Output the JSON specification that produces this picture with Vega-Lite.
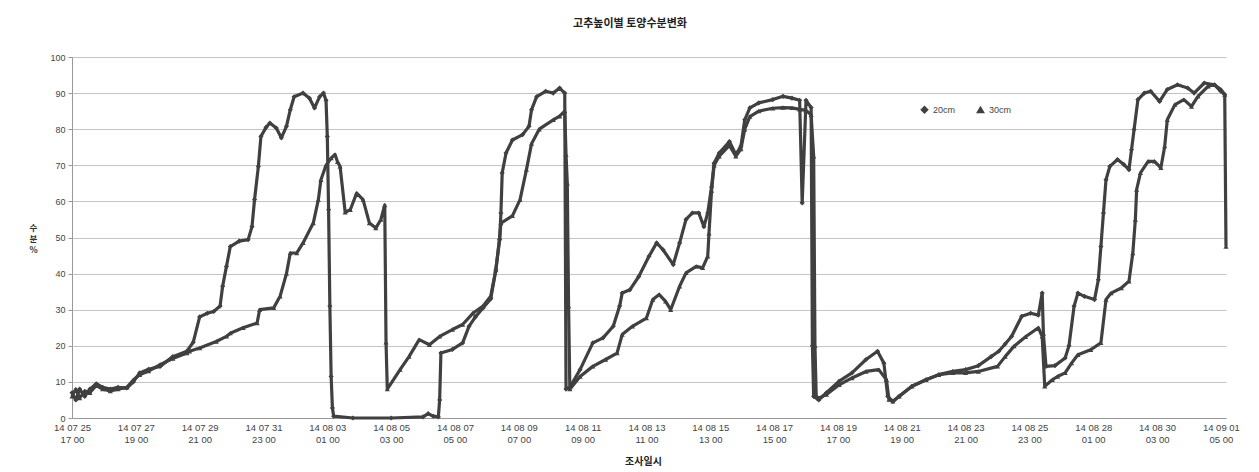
{
"$schema": "https://vega.github.io/schema/vega-lite/v6.json",
"width": 1154, "height": 361,
"autosize": "none",
"padding": {"left": 72, "top": 57, "right": 33, "bottom": 54},
"background": "white",
"title": {"text": "고추높이별 토양수분변화", "fontSize": 11, "font": "Noto Sans CJK KR", "fontWeight": "bold", "color": "#222222", "offset": 24, "dx": -19},
"data": {"values": [
{"h":0,"d":"20cm","v":7},{"h":3,"d":"20cm","v":5},{"h":6,"d":"20cm","v":8},{"h":10,"d":"20cm","v":6},{"h":14,"d":"20cm","v":8},{"h":19,"d":"20cm","v":9.5},{"h":24,"d":"20cm","v":8.5},{"h":30,"d":"20cm","v":8},{"h":36,"d":"20cm","v":8.5},{"h":43,"d":"20cm","v":8.3},{"h":48,"d":"20cm","v":10},{"h":53,"d":"20cm","v":12.5},{"h":60,"d":"20cm","v":13.5},{"h":69,"d":"20cm","v":14.3},{"h":79,"d":"20cm","v":17},{"h":90,"d":"20cm","v":18.5},{"h":95,"d":"20cm","v":21},{"h":100,"d":"20cm","v":28},{"h":106,"d":"20cm","v":29},{"h":111,"d":"20cm","v":29.5},{"h":116,"d":"20cm","v":31},{"h":118,"d":"20cm","v":36.5},{"h":121,"d":"20cm","v":42},{"h":124,"d":"20cm","v":47.5},{"h":131,"d":"20cm","v":49},{"h":138,"d":"20cm","v":49.4},{"h":141,"d":"20cm","v":53},{"h":143,"d":"20cm","v":60.5},{"h":146,"d":"20cm","v":69.7},{"h":148,"d":"20cm","v":78},{"h":152,"d":"20cm","v":80.5},{"h":155,"d":"20cm","v":81.7},{"h":160,"d":"20cm","v":80.3},{"h":164,"d":"20cm","v":77.6},{"h":168,"d":"20cm","v":80.8},{"h":171,"d":"20cm","v":85.4},{"h":174,"d":"20cm","v":89},{"h":181,"d":"20cm","v":90},{"h":186,"d":"20cm","v":88.6},{"h":190,"d":"20cm","v":85.9},{"h":194,"d":"20cm","v":89},{"h":197,"d":"20cm","v":90},{"h":199,"d":"20cm","v":88},{"h":200,"d":"20cm","v":78},{"h":201,"d":"20cm","v":57.7},{"h":202,"d":"20cm","v":31},{"h":203,"d":"20cm","v":11.5},{"h":204,"d":"20cm","v":2.8},{"h":205,"d":"20cm","v":0.5},{"h":220,"d":"20cm","v":0},{"h":250,"d":"20cm","v":0},{"h":275,"d":"20cm","v":0.3},{"h":279,"d":"20cm","v":1.2},{"h":283,"d":"20cm","v":0.5},{"h":287,"d":"20cm","v":0.3},{"h":288,"d":"20cm","v":5},{"h":289,"d":"20cm","v":18},{"h":298,"d":"20cm","v":19},{"h":306,"d":"20cm","v":20.8},{"h":311,"d":"20cm","v":25.4},{"h":316,"d":"20cm","v":28},{"h":322,"d":"20cm","v":30.5},{"h":328,"d":"20cm","v":33},{"h":332,"d":"20cm","v":41},{"h":335,"d":"20cm","v":49.4},{"h":336,"d":"20cm","v":56.8},{"h":337,"d":"20cm","v":67.9},{"h":340,"d":"20cm","v":73.4},{"h":345,"d":"20cm","v":77},{"h":353,"d":"20cm","v":78.5},{"h":358,"d":"20cm","v":80.8},{"h":360,"d":"20cm","v":85.4},{"h":364,"d":"20cm","v":89},{"h":371,"d":"20cm","v":90.5},{"h":377,"d":"20cm","v":90},{"h":382,"d":"20cm","v":91.4},{"h":386,"d":"20cm","v":90},{"h":387,"d":"20cm","v":8},{"h":390,"d":"20cm","v":8.5},{"h":398,"d":"20cm","v":13.4},{"h":408,"d":"20cm","v":20.8},{"h":416,"d":"20cm","v":22.2},{"h":424,"d":"20cm","v":25.4},{"h":429,"d":"20cm","v":31},{"h":431,"d":"20cm","v":34.6},{"h":437,"d":"20cm","v":35.5},{"h":444,"d":"20cm","v":39.2},{"h":452,"d":"20cm","v":44.8},{"h":458,"d":"20cm","v":48.5},{"h":463,"d":"20cm","v":46.6},{"h":471,"d":"20cm","v":42.5},{"h":476,"d":"20cm","v":48.5},{"h":481,"d":"20cm","v":55},{"h":486,"d":"20cm","v":56.8},{"h":491,"d":"20cm","v":56.8},{"h":495,"d":"20cm","v":53},{"h":498,"d":"20cm","v":56.8},{"h":501,"d":"20cm","v":64},{"h":503,"d":"20cm","v":70.6},{"h":507,"d":"20cm","v":73.4},{"h":515,"d":"20cm","v":76.6},{"h":520,"d":"20cm","v":73},{"h":524,"d":"20cm","v":75.3},{"h":527,"d":"20cm","v":82.6},{"h":531,"d":"20cm","v":85.9},{"h":538,"d":"20cm","v":87.3},{"h":549,"d":"20cm","v":88.2},{"h":557,"d":"20cm","v":89.1},{"h":564,"d":"20cm","v":88.6},{"h":570,"d":"20cm","v":88},{"h":572,"d":"20cm","v":59.6},{"h":575,"d":"20cm","v":88},{"h":579,"d":"20cm","v":86},{"h":580,"d":"20cm","v":20},{"h":581,"d":"20cm","v":6},{"h":585,"d":"20cm","v":5},{"h":591,"d":"20cm","v":7},{"h":601,"d":"20cm","v":10.2},{"h":611,"d":"20cm","v":12.5},{"h":622,"d":"20cm","v":16.2},{"h":631,"d":"20cm","v":18.5},{"h":636,"d":"20cm","v":15.2},{"h":639,"d":"20cm","v":6},{"h":643,"d":"20cm","v":4.6},{"h":648,"d":"20cm","v":6},{"h":658,"d":"20cm","v":8.8},{"h":669,"d":"20cm","v":10.6},{"h":679,"d":"20cm","v":12},{"h":690,"d":"20cm","v":12.9},{"h":700,"d":"20cm","v":13.4},{"h":710,"d":"20cm","v":14.5},{"h":720,"d":"20cm","v":17},{"h":726,"d":"20cm","v":18.5},{"h":731,"d":"20cm","v":20.5},{"h":736,"d":"20cm","v":22.6},{"h":744,"d":"20cm","v":28.2},{"h":751,"d":"20cm","v":29},{"h":757,"d":"20cm","v":28.5},{"h":760,"d":"20cm","v":34.6},{"h":761,"d":"20cm","v":23},{"h":763,"d":"20cm","v":14.3},{"h":770,"d":"20cm","v":14.5},{"h":778,"d":"20cm","v":16.6},{"h":781,"d":"20cm","v":20},{"h":785,"d":"20cm","v":31},{"h":788,"d":"20cm","v":34.6},{"h":793,"d":"20cm","v":33.7},{"h":801,"d":"20cm","v":32.8},{"h":804,"d":"20cm","v":38.3},{"h":806,"d":"20cm","v":47.5},{"h":808,"d":"20cm","v":56.8},{"h":810,"d":"20cm","v":66},{"h":813,"d":"20cm","v":69.7},{"h":819,"d":"20cm","v":71.6},{"h":824,"d":"20cm","v":70.2},{"h":828,"d":"20cm","v":68.8},{"h":830,"d":"20cm","v":74.3},{"h":832,"d":"20cm","v":79.9},{"h":835,"d":"20cm","v":88.2},{"h":840,"d":"20cm","v":90},{"h":845,"d":"20cm","v":90.5},{"h":852,"d":"20cm","v":87.7},{"h":858,"d":"20cm","v":91},{"h":866,"d":"20cm","v":92.3},{"h":874,"d":"20cm","v":91.4},{"h":879,"d":"20cm","v":90},{"h":887,"d":"20cm","v":92.8},{"h":895,"d":"20cm","v":92.3},{"h":900,"d":"20cm","v":90.5},{"h":903,"d":"20cm","v":89.6},
{"h":0,"d":"30cm","v":6},{"h":3,"d":"30cm","v":8},{"h":6,"d":"30cm","v":5.5},{"h":10,"d":"30cm","v":7.5},{"h":14,"d":"30cm","v":7},{"h":19,"d":"30cm","v":9},{"h":24,"d":"30cm","v":8},{"h":30,"d":"30cm","v":7.5},{"h":36,"d":"30cm","v":8},{"h":43,"d":"30cm","v":8.5},{"h":48,"d":"30cm","v":10.5},{"h":53,"d":"30cm","v":12},{"h":60,"d":"30cm","v":13},{"h":69,"d":"30cm","v":14.8},{"h":79,"d":"30cm","v":16.5},{"h":90,"d":"30cm","v":18},{"h":92,"d":"30cm","v":18.5},{"h":100,"d":"30cm","v":19.4},{"h":113,"d":"30cm","v":21.2},{"h":121,"d":"30cm","v":22.6},{"h":124,"d":"30cm","v":23.5},{"h":134,"d":"30cm","v":25},{"h":145,"d":"30cm","v":26.3},{"h":147,"d":"30cm","v":30},{"h":158,"d":"30cm","v":30.5},{"h":163,"d":"30cm","v":33.7},{"h":168,"d":"30cm","v":40},{"h":171,"d":"30cm","v":45.7},{"h":176,"d":"30cm","v":45.7},{"h":181,"d":"30cm","v":48.5},{"h":189,"d":"30cm","v":54},{"h":193,"d":"30cm","v":60.5},{"h":195,"d":"30cm","v":66},{"h":199,"d":"30cm","v":70},{"h":203,"d":"30cm","v":72},{"h":206,"d":"30cm","v":73},{"h":208,"d":"30cm","v":71},{"h":210,"d":"30cm","v":69.7},{"h":214,"d":"30cm","v":57},{"h":218,"d":"30cm","v":57.7},{"h":223,"d":"30cm","v":62.3},{"h":228,"d":"30cm","v":60.5},{"h":233,"d":"30cm","v":54},{"h":238,"d":"30cm","v":52.6},{"h":242,"d":"30cm","v":55},{"h":245,"d":"30cm","v":59},{"h":246,"d":"30cm","v":21},{"h":247,"d":"30cm","v":8},{"h":257,"d":"30cm","v":13.4},{"h":264,"d":"30cm","v":17},{"h":272,"d":"30cm","v":21.7},{"h":280,"d":"30cm","v":20.3},{"h":288,"d":"30cm","v":22.6},{"h":298,"d":"30cm","v":24.5},{"h":306,"d":"30cm","v":25.9},{"h":314,"d":"30cm","v":29},{"h":322,"d":"30cm","v":31},{"h":328,"d":"30cm","v":33.7},{"h":332,"d":"30cm","v":41},{"h":335,"d":"30cm","v":50},{"h":336,"d":"30cm","v":54},{"h":345,"d":"30cm","v":56},{"h":351,"d":"30cm","v":60.5},{"h":356,"d":"30cm","v":68.8},{"h":360,"d":"30cm","v":76},{"h":366,"d":"30cm","v":80},{"h":377,"d":"30cm","v":82.6},{"h":382,"d":"30cm","v":83.6},{"h":386,"d":"30cm","v":85},{"h":387,"d":"30cm","v":73},{"h":388,"d":"30cm","v":65},{"h":389,"d":"30cm","v":31},{"h":390,"d":"30cm","v":8},{"h":398,"d":"30cm","v":11.5},{"h":408,"d":"30cm","v":14.3},{"h":418,"d":"30cm","v":16.2},{"h":427,"d":"30cm","v":18},{"h":431,"d":"30cm","v":23.1},{"h":439,"d":"30cm","v":25.4},{"h":450,"d":"30cm","v":27.7},{"h":455,"d":"30cm","v":32.8},{"h":460,"d":"30cm","v":34.2},{"h":465,"d":"30cm","v":32.3},{"h":469,"d":"30cm","v":30},{"h":476,"d":"30cm","v":36.5},{"h":481,"d":"30cm","v":40.2},{"h":489,"d":"30cm","v":42},{"h":494,"d":"30cm","v":41.6},{"h":498,"d":"30cm","v":44.8},{"h":499,"d":"30cm","v":51.2},{"h":501,"d":"30cm","v":63},{"h":503,"d":"30cm","v":70},{"h":507,"d":"30cm","v":72.5},{"h":515,"d":"30cm","v":75.5},{"h":520,"d":"30cm","v":72.5},{"h":524,"d":"30cm","v":74.5},{"h":527,"d":"30cm","v":80},{"h":531,"d":"30cm","v":83.5},{"h":538,"d":"30cm","v":85},{"h":549,"d":"30cm","v":85.8},{"h":557,"d":"30cm","v":86},{"h":564,"d":"30cm","v":85.9},{"h":570,"d":"30cm","v":85.5},{"h":575,"d":"30cm","v":85.2},{"h":579,"d":"30cm","v":84},{"h":581,"d":"30cm","v":72.5},{"h":582,"d":"30cm","v":20},{"h":583,"d":"30cm","v":6},{"h":585,"d":"30cm","v":5.5},{"h":591,"d":"30cm","v":6.5},{"h":601,"d":"30cm","v":9.2},{"h":611,"d":"30cm","v":11.1},{"h":622,"d":"30cm","v":12.9},{"h":632,"d":"30cm","v":13.4},{"h":638,"d":"30cm","v":10.6},{"h":640,"d":"30cm","v":5.1},{"h":643,"d":"30cm","v":4.6},{"h":648,"d":"30cm","v":6},{"h":658,"d":"30cm","v":8.8},{"h":669,"d":"30cm","v":10.6},{"h":679,"d":"30cm","v":12},{"h":690,"d":"30cm","v":12.5},{"h":700,"d":"30cm","v":12.5},{"h":710,"d":"30cm","v":12.9},{"h":725,"d":"30cm","v":14.3},{"h":731,"d":"30cm","v":17},{"h":738,"d":"30cm","v":19.9},{"h":747,"d":"30cm","v":22.5},{"h":757,"d":"30cm","v":25},{"h":760,"d":"30cm","v":22.6},{"h":762,"d":"30cm","v":8.8},{"h":768,"d":"30cm","v":10.6},{"h":772,"d":"30cm","v":11.5},{"h":778,"d":"30cm","v":12.5},{"h":783,"d":"30cm","v":15.2},{"h":788,"d":"30cm","v":17.5},{"h":798,"d":"30cm","v":18.9},{"h":806,"d":"30cm","v":20.8},{"h":810,"d":"30cm","v":32.8},{"h":814,"d":"30cm","v":34.6},{"h":822,"d":"30cm","v":36},{"h":828,"d":"30cm","v":37.9},{"h":831,"d":"30cm","v":45.7},{"h":833,"d":"30cm","v":55},{"h":834,"d":"30cm","v":63.3},{"h":837,"d":"30cm","v":67.9},{"h":843,"d":"30cm","v":71.1},{"h":848,"d":"30cm","v":71.1},{"h":853,"d":"30cm","v":69.3},{"h":856,"d":"30cm","v":75.3},{"h":858,"d":"30cm","v":82.6},{"h":864,"d":"30cm","v":86.8},{"h":871,"d":"30cm","v":88.2},{"h":877,"d":"30cm","v":86.3},{"h":882,"d":"30cm","v":89.1},{"h":890,"d":"30cm","v":91.9},{"h":895,"d":"30cm","v":92.3},{"h":900,"d":"30cm","v":91},{"h":903,"d":"30cm","v":89.6},{"h":904,"d":"30cm","v":47.5}
]},
"encoding": {
  "x": {"field": "h", "type": "quantitative",
    "scale": {"domain": [0, 904], "nice": false, "zero": false},
    "axis": {"values": [0,50,100,150,200,250,300,350,400,450,500,550,600,650,700,750,800,850,900],
      "labelExpr": "[timeFormat(datetime(2014,6,25,17+datum.value),'%y %m %d'), timeFormat(datetime(2014,6,25,17+datum.value),'%H %M')]",
      "title": "조사일시", "titleFont": "Noto Sans CJK KR", "titleFontSize": 10, "titleFontWeight": "bold", "titleColor": "#222222",
      "titleBaseline": "top", "titleY": 38, "titleX": 571,
      "grid": false, "ticks": false, "labelPadding": 4, "labelFont": "Liberation Sans", "labelFontSize": 9.5, "labelLineHeight": 12, "labelColor": "#444444",
      "labelOverlap": false, "labelFlush": false, "domainColor": "#999999"}},
  "y": {"field": "v", "type": "quantitative",
    "scale": {"domain": [0, 100], "nice": false},
    "axis": {"values": [0,10,20,30,40,50,60,70,80,90,100],
      "title": ["수","분","%"], "titleAngle": 360, "titleX": -39, "titleY": 166, "titleBaseline": "top", "titleAlign": "center",
      "titleFont": "Noto Sans CJK KR", "titleFontSize": 8.5, "titleFontWeight": "bold", "titleLineHeight": 11, "titleColor": "#333333",
      "grid": true, "gridColor": "#c4c4c4", "gridWidth": 1, "tickSize": 4, "tickColor": "#999999", "labelPadding": 3,
      "labelFont": "Liberation Sans", "labelFontSize": 9, "labelColor": "#444444", "domainColor": "#999999"}},
  "color": {"field": "d", "type": "nominal", "scale": {"domain": ["20cm","30cm"], "range": ["#404040", "#404040"]},
    "legend": {"orient": "none", "legendX": 848, "legendY": 48, "direction": "horizontal", "title": null,
      "labelFont": "Liberation Sans", "labelFontSize": 9, "labelColor": "#444444", "symbolSize": 40, "columnPadding": 18}}
},
"layer": [
  {"mark": {"type": "line", "strokeWidth": 3.2, "strokeJoin": "round"}},
  {"mark": {"type": "point", "filled": true, "size": 26, "opacity": 1},
   "encoding": {"shape": {"field": "d", "type": "nominal", "scale": {"domain": ["20cm","30cm"], "range": ["diamond", "triangle-up"]}}}}
],
"config": {"view": {"stroke": null}}
}
